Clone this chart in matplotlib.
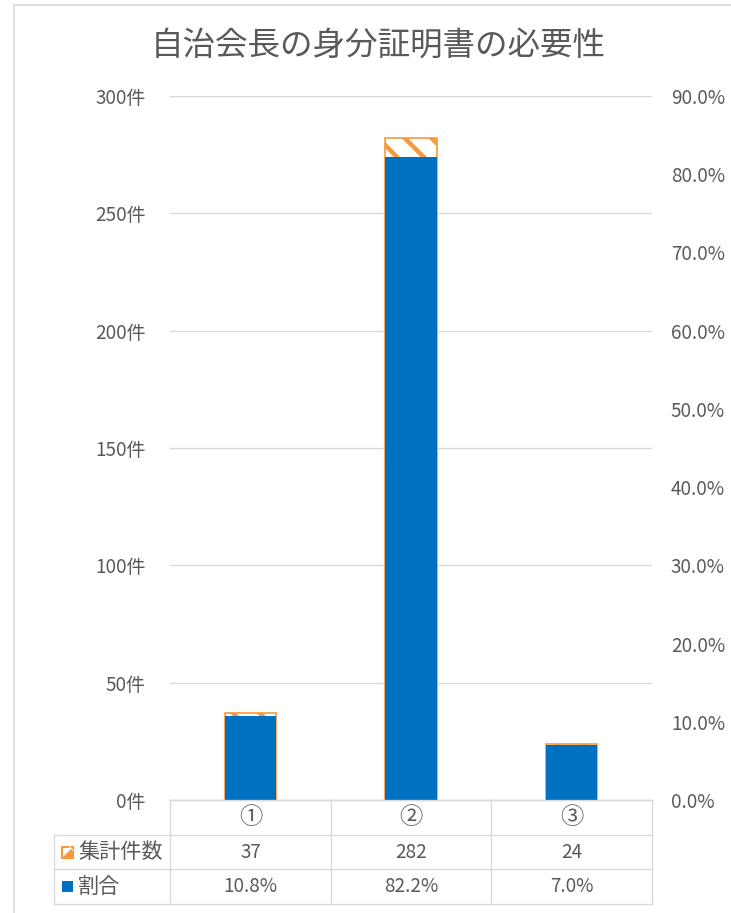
import matplotlib
matplotlib.use('Agg')
import matplotlib.pyplot as plt
from matplotlib.patches import Rectangle, Polygon

# ---- data ----
categories = ['①', '②', '③']
counts = [37, 282, 24]
ratios = [10.8, 82.2, 7.0]
count_ticks = [0, 50, 100, 150, 200, 250, 300]
ratio_ticks = [0, 10, 20, 30, 40, 50, 60, 70, 80, 90]
series_names = ['集計件数', '割合']
title = '自治会長の身分証明書の必要性'

W, H, DPI = 731, 913, 80
plt.rcParams['font.family'] = ['Noto Sans CJK JP', 'DejaVu Sans']
plt.rcParams['hatch.linewidth'] = 4.0
TXT = '#595959'
GRID = '#D9D9D9'
ORANGE = '#F7983A'
BLUE = '#0070C0'
FS = 17

fig = plt.figure(figsize=(W / DPI, H / DPI), dpi=DPI)
fig.patch.set_facecolor('white')

L, R, T, B = 170, 652, 96, 800
ax = fig.add_axes([L / W, 1 - B / H, (R - L) / W, (B - T) / H])
xs = list(range(len(categories)))
ax.bar(xs, counts, width=0.32, facecolor='white', edgecolor=ORANGE,
       hatch='\\', linewidth=1.5, zorder=2)
ax.set_xlim(-0.5, len(categories) - 0.5)
ax.set_ylim(0, 300)
ax.set_yticks(count_ticks, [f'{v}件' for v in count_ticks])
ax.set_xticks([])
ax.yaxis.grid(True, color=GRID, linewidth=1.2)
ax.set_axisbelow(True)
for s in ['top', 'left', 'right']:
    ax.spines[s].set_visible(False)
ax.spines['bottom'].set_color(GRID)
ax.spines['bottom'].set_linewidth(1.2)
ax.tick_params(axis='y', length=0, pad=22, labelsize=FS, labelcolor=TXT)

ax2 = ax.twinx()
ax2.bar(xs, ratios, width=0.32, color=BLUE, linewidth=0, zorder=3)
ax2.set_ylim(0, 90)
ax2.set_yticks(ratio_ticks, [f'{v:.1f}%' for v in ratio_ticks])
for s in ['top', 'left', 'right', 'bottom']:
    ax2.spines[s].set_visible(False)
ax2.tick_params(axis='y', length=0, pad=17, labelsize=FS, labelcolor=TXT)

# ---- overlay in pixel coords: border, title, data table ----
ov = fig.add_axes([0, 0, 1, 1], zorder=5)
ov.set_xlim(0, W)
ov.set_ylim(H, 0)
ov.axis('off')
ov.patch.set_alpha(0)

ov.plot([14, 14], [H, 5], color=GRID, lw=1.5, clip_on=False)
ov.plot([14, W], [5, 5], color=GRID, lw=1.5, clip_on=False)

ov.text(378, 46, title, ha='center', va='center', fontsize=29.3, color=TXT)

col_x = [54, 170, 331, 491, 652]
row_y = [800, 835, 869, 904]
ov.plot([170, 652], [800, 800], color=GRID, lw=1.2)
for yy in row_y[1:]:
    ov.plot([54, 652], [yy, yy], color=GRID, lw=1.2)
ov.plot([54, 54], [835, 904], color=GRID, lw=1.2)
for xx in col_x[1:]:
    ov.plot([xx, xx], [800, 904], color=GRID, lw=1.2)

centers = [(col_x[i + 1] + col_x[i + 2]) / 2 for i in range(len(categories))]
row_c = [(row_y[i] + row_y[i + 1]) / 2 for i in range(3)]
for c, cat, n, r in zip(centers, categories, counts, ratios):
    ov.text(c, row_c[0], cat, ha='center', va='center', fontsize=21, color=TXT)
    ov.text(c, row_c[1], f'{n}', ha='center', va='center', fontsize=FS, color=TXT)
    ov.text(c, row_c[2], f'{r:.1f}%', ha='center', va='center', fontsize=FS, color=TXT)

# row labels with legend keys
k1 = row_c[1]
ov.add_patch(Rectangle((62, k1 - 5.5), 11, 11, facecolor='white',
                       edgecolor=ORANGE, linewidth=1.8))
ov.add_patch(Polygon([(73, k1 - 5.5), (73, k1 + 5.5), (62, k1 + 5.5)],
                     closed=True, facecolor=ORANGE, edgecolor='none'))
ov.add_patch(Polygon([(70, k1 - 5.5), (73, k1 - 2.5), (73, k1 - 1), (68.5, k1 - 5.5)],
                     closed=True, facecolor='white', edgecolor='none'))
ov.add_patch(Rectangle((62, row_c[2] - 5.5), 11, 11, facecolor=BLUE,
                       edgecolor='none'))
ov.text(78, row_c[1], series_names[0], ha='left', va='center', fontsize=19, color=TXT)
ov.text(78, row_c[2], series_names[1], ha='left', va='center', fontsize=19, color=TXT)

fig.savefig('out.png', dpi=DPI)
